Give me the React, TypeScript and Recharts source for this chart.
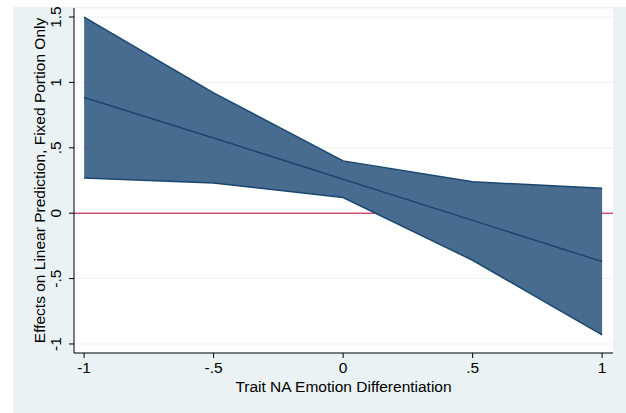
import { Area, CartesianGrid, ComposedChart, Line, ReferenceLine, XAxis, YAxis } from "recharts";

const xs = [-1, -0.5, 0, 0.5, 1];
const upper = [1.5, 0.92, 0.4, 0.24, 0.19];
const lower = [0.27, 0.23, 0.12, -0.36, -0.93];
const fit = [0.885, 0.575, 0.26, -0.055, -0.37];
const xTicks = [-1, -0.5, 0, 0.5, 1];
const yTicks = [-1, -0.5, 0, 0.5, 1, 1.5];

const data = xs.map((x, i) => ({ x, band: [lower[i], upper[i]], fit: fit[i] }));

const fmt = (v: number) => {
  const s = String(v);
  return s.replace(/^0\./, ".").replace(/^-0\./, "-.");
};

const font = "'Liberation Sans', Arial, sans-serif";
const fs = 15.5;

const YTick = (props: any) => {
  const { x, y, payload } = props;
  return (
    <text
      x={x - 6}
      y={y}
      transform={`rotate(-90 ${x - 6} ${y})`}
      textAnchor="middle"
      fontSize={fs}
      fontFamily={font}
      fill="#000"
    >
      {fmt(payload.value)}
    </text>
  );
};

const YLabel = (props: any) => {
  const vb = props.viewBox || {};
  const cx = 45;
  const cy = (vb.y ?? 8) + (vb.height ?? 345) / 2;
  return (
    <text
      x={cx}
      y={cy}
      transform={`rotate(-90 ${cx} ${cy})`}
      textAnchor="middle"
      fontSize={fs}
      fontFamily={font}
      fill="#000"
    >
      Effects on Linear Prediction, Fixed Portion Only
    </text>
  );
};

export default function App() {
  return (
    <div style={{ position: "absolute", left: 0, top: 0, width: 626, height: 413, background: "#fff" }}>
      <div
        style={{ position: "absolute", left: 13, top: 7, width: 613, height: 406, background: "#EAF2F3" }}
      />
      <ComposedChart
        width={626}
        height={413}
        data={data}
        margin={{ top: 8, right: 13, bottom: 0, left: 0 }}
        style={{ position: "absolute", left: 0, top: 0 }}
      >
        <CartesianGrid fill="#fff" stroke="#EAF2F3" vertical={false} />
        <XAxis
          dataKey="x"
          type="number"
          domain={[-1.039, 1.042]}
          ticks={xTicks}
          tickFormatter={fmt}
          height={60}
          tickSize={5}
          stroke="#000"
          tick={{ fill: "#000", fontSize: fs, fontFamily: font, dy: 2 }}
          label={{ value: "Trait NA Emotion Differentiation", position: "insideTop", offset: 28, fill: "#000", fontSize: fs, fontFamily: font }}
        />
        <YAxis
          type="number"
          domain={[-1.069, 1.569]}
          ticks={yTicks}
          width={74}
          tickSize={5}
          stroke="#000"
          tick={<YTick />}
          label={<YLabel />}
        />
        <ReferenceLine y={0} stroke="#C10534" strokeWidth={1} zIndex={50} />
        <Area
          dataKey="band"
          type="linear"
          stroke="#1A476F"
          strokeWidth={1.5}
          fill="#486C8F"
          fillOpacity={1}
          isAnimationActive={false}
        />
        <Line
          dataKey="fit"
          type="linear"
          stroke="#1A476F"
          strokeWidth={1.5}
          dot={false}
          isAnimationActive={false}
        />
      </ComposedChart>
    </div>
  );
}
